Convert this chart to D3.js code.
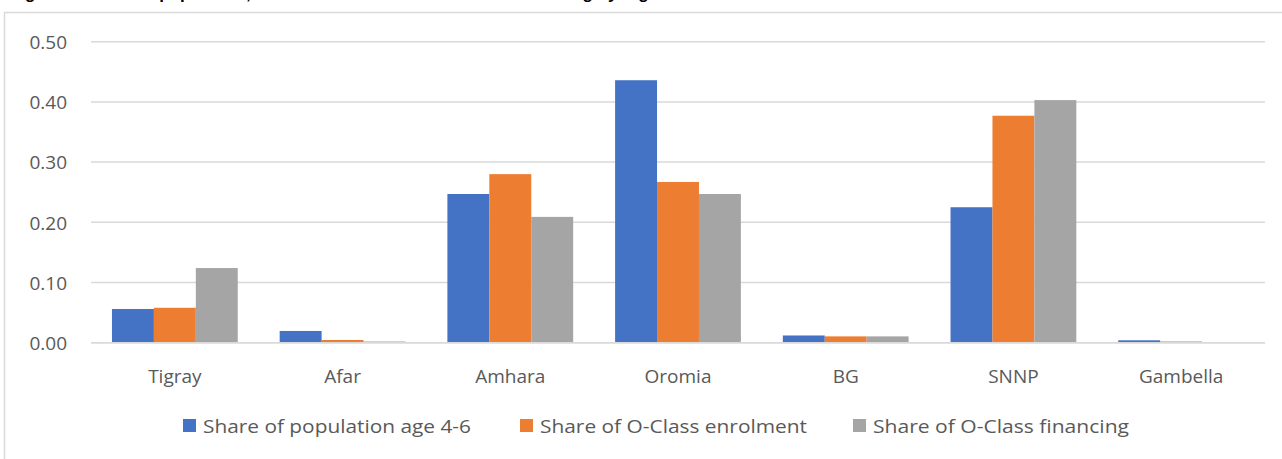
<!DOCTYPE html>
<html><head><meta charset="utf-8">
<script src="https://cdn.jsdelivr.net/npm/d3@7/dist/d3.min.js"></script>
<style>
html,body{margin:0;padding:0;background:#fff;overflow:hidden;}
svg{display:block;font-family:"Open Sans","Noto Sans",sans-serif;}
</style></head><body>
<svg id="chart" width="1282" height="459"></svg>
<script>
const title = "Figure 4: Share of population, enrolment and share of O-Class financing by region";
const categories = ["Tigray","Afar","Amhara","Oromia","BG","SNNP","Gambella"];
const seriesNames = ["Share of population age 4-6","Share of O-Class enrolment","Share of O-Class financing"];
const popShare = [0.056, 0.0195, 0.247, 0.436, 0.012, 0.225, 0.004];
const enrolShare = [0.058, 0.0045, 0.280, 0.267, 0.0105, 0.377, 0.002];
const finShare = [0.124, 0.002, 0.209, 0.247, 0.0105, 0.403, 0.001];
const yTicks = [0, 0.1, 0.2, 0.3, 0.4, 0.5];
const colors = ["#4472c4","#ed7d31","#a5a5a5"];

const series = [popShare, enrolShare, finShare];
const svg = d3.select("#chart");

// clipped title at top (only its descenders show, as in the reference)
svg.append("text").attr("x", 10).attr("y", -1)
  .attr("font-family","Liberation Sans, Arial, sans-serif")
  .attr("font-weight","bold").attr("font-size",17).attr("fill","#000")
  .text(title);

// chart frame
svg.append("path").attr("d","M4.5,470 L4.5,12.5 L1290,12.5")
  .attr("fill","none").attr("stroke","#d9d9d9").attr("stroke-width",1.5);

const pLeft = 91, pRight = 1265, pTop = 41.7, pBottom = 342.7;
const x = d3.scaleBand().domain(categories).range([pLeft, pRight]).paddingInner(0.25).paddingOuter(0.125);
const xs = d3.scaleBand().domain(d3.range(3)).range([0, x.bandwidth()]);
const y = d3.scaleLinear().domain([0, 0.5]).range([pBottom, pTop]);

// gridlines
svg.append("g").selectAll("line").data(yTicks).join("line")
  .attr("x1", pLeft).attr("x2", pRight)
  .attr("y1", d => y(d)).attr("y2", d => y(d))
  .attr("stroke", "#d9d9d9").attr("stroke-width", 1.5);

// y labels
const yAxis = d3.axisLeft(y).tickValues(yTicks).tickFormat(d3.format(".2f")).tickSize(0).tickPadding(0);
const ya = svg.append("g").attr("transform", "translate(67,0)").call(yAxis);
ya.select(".domain").remove();
ya.selectAll("text").attr("font-size", 19).attr("fill", "#595959")
  .attr("font-family","Open Sans, sans-serif").attr("dy","0.36em");

// bars
series.forEach((vals, si) => {
  svg.append("g").selectAll("rect").data(vals).join("rect")
    .attr("x", (d, i) => x(categories[i]) + xs(si))
    .attr("width", xs.bandwidth())
    .attr("y", d => y(d))
    .attr("height", d => y(0) - y(d))
    .attr("fill", colors[si]);
});

// baseline redraw
svg.append("line").attr("x1", pLeft).attr("x2", pRight).attr("y1", y(0)).attr("y2", y(0))
  .attr("stroke","#d9d9d9").attr("stroke-width",1.5);

// x labels
const xAxis = d3.axisBottom(x).tickSize(0).tickPadding(0);
const xa = svg.append("g").attr("transform", `translate(0,${y(0)+40})`).call(xAxis);
xa.select(".domain").remove();
xa.selectAll("text").attr("font-size", 19).attr("fill", "#595959")
  .attr("font-family","Open Sans, sans-serif").attr("dy", 0);

// legend
const legendX = [183, 520, 853];
const legendLen = [268, 267, 256];
const lg = svg.append("g");
seriesNames.forEach((n, i) => {
  lg.append("rect").attr("x", legendX[i]).attr("y", 419).attr("width", 13).attr("height", 13).attr("fill", colors[i]);
  lg.append("text").attr("x", legendX[i] + 20).attr("y", 433)
    .attr("font-size", 19).attr("fill", "#595959").attr("font-family","Open Sans, sans-serif")
    .attr("textLength", legendLen[i]).attr("lengthAdjust", "spacingAndGlyphs")
    .text(n);
});
</script></body></html>
